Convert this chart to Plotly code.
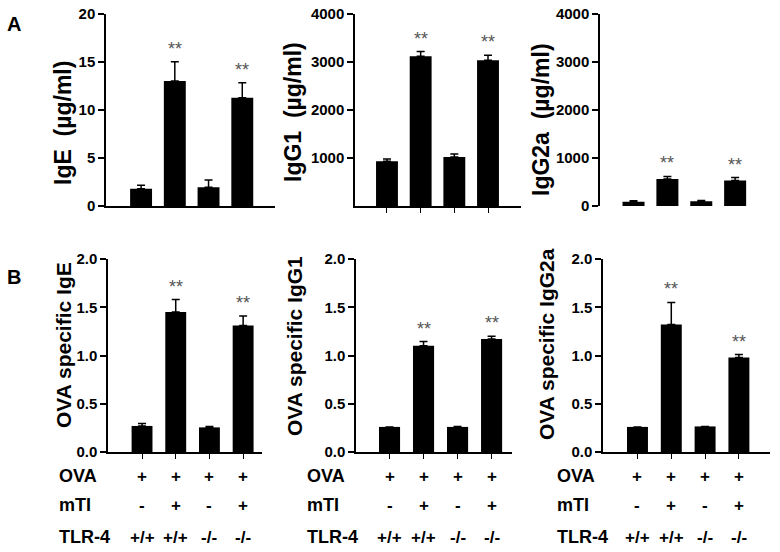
import plotly.graph_objects as go

# ---------------- data ----------------
groups = ["OVA", "OVA+mTI", "OVA TLR4-/-", "OVA+mTI TLR4-/-"]
ova_row = ["+", "+", "+", "+"]
mti_row = ["-", "+", "-", "+"]
tlr4_row = ["+/+", "+/+", "-/-", "-/-"]
significance = ["", "**", "", "**"]

ige_total = [1.8, 13.0, 1.95, 11.25]
ige_total_err = [0.35, 2.0, 0.75, 1.55]
igg1_total = [930, 3110, 1020, 3030]
igg1_total_err = [45, 100, 60, 100]
igg2a_total = [90, 560, 100, 530]
igg2a_total_err = [20, 55, 15, 60]

ova_ige = [0.27, 1.45, 0.255, 1.31]
ova_ige_err = [0.025, 0.13, 0.008, 0.10]
ova_igg1 = [0.26, 1.10, 0.26, 1.17]
ova_igg1_err = [0.0, 0.045, 0.003, 0.03]
ova_igg2a = [0.26, 1.32, 0.265, 0.98]
ova_igg2a_err = [0.0, 0.23, 0.0, 0.03]

W, H = 780, 552
FONT = "Liberation Sans, Arial, sans-serif"


def px_x(p):
    return p / W


def px_y(p):
    return 1 - p / H


panels = [
    dict(vals=ige_total, err=ige_total_err, title="IgE\u00a0\u00a0(µg/ml)",
         xd=(106, 275), xr=(-1.04, 3.97), yd=(206, 13.5), yr=(0, 20),
         tickvals=[0, 5, 10, 15, 20], ticktext=None, xline=True, xticks=False,
         title_pos=(63, 123), title_size=23),
    dict(vals=igg1_total, err=igg1_total_err, title="IgG1\u00a0\u00a0(µg/ml)",
         xd=(355, 521), xr=(-0.95, 3.98), yd=(206, 13.5), yr=(0, 4000),
         tickvals=[1000, 2000, 3000, 4000], ticktext=None, xline=True, xticks=True,
         title_pos=(293, 112), title_size=23),
    dict(vals=igg2a_total, err=igg2a_total_err, title="IgG2a\u00a0\u00a0(µg/ml)",
         xd=(600, 769), xr=(-0.99, 4.0), yd=(206, 13.5), yr=(0, 4000),
         tickvals=[0, 1000, 2000, 3000, 4000], ticktext=None, xline=False, xticks=False,
         title_pos=(541, 120), title_size=23),
    dict(vals=ova_ige, err=ova_ige_err, title="OVA specific IgE",
         xd=(108, 262), xr=(-1.01, 3.56), yd=(452, 259), yr=(0, 2),
         tickvals=[0, 0.5, 1.0, 1.5, 2.0], ticktext=["0.0", "0.5", "1.0", "1.5", "2.0"],
         xline=True, xticks=True, title_pos=(63, 345), title_size=21),
    dict(vals=ova_igg1, err=ova_igg1_err, title="OVA specific IgG1",
         xd=(356, 512), xr=(-0.985, 3.6), yd=(452, 259), yr=(0, 2),
         tickvals=[0, 0.5, 1.0, 1.5, 2.0], ticktext=["0.0", "0.5", "1.0", "1.5", "2.0"],
         xline=True, xticks=True, title_pos=(294, 346), title_size=21),
    dict(vals=ova_igg2a, err=ova_igg2a_err, title="OVA specific IgG2a",
         xd=(603, 770), xr=(-1.02, 3.92), yd=(452, 259), yr=(0, 2),
         tickvals=[0, 0.5, 1.0, 1.5, 2.0], ticktext=["0.0", "0.5", "1.0", "1.5", "2.0"],
         xline=True, xticks=True, title_pos=(546, 344), title_size=21),
]

fig = go.Figure()
annotations = []

for i, p in enumerate(panels, start=1):
    xa = "x" if i == 1 else f"x{i}"
    ya = "y" if i == 1 else f"y{i}"
    fig.add_trace(go.Bar(
        x=groups, y=p["vals"], xaxis=xa, yaxis=ya,
        width=0.65 if i <= 3 else 0.62,
        marker=dict(color="black", line=dict(width=0)),
        error_y=dict(type="data", array=p["err"], arrayminus=[0] * 4,
                     symmetric=False, color="black", thickness=1.5, width=4),
        showlegend=False, hoverinfo="skip",
    ))
    xkey = "xaxis" if i == 1 else f"xaxis{i}"
    ykey = "yaxis" if i == 1 else f"yaxis{i}"
    fig.update_layout(**{
        xkey: dict(domain=[px_x(p["xd"][0]), px_x(p["xd"][1])],
                   anchor=ya, range=list(p["xr"]), type="category",
                   showline=p["xline"], linecolor="black", linewidth=1.5,
                   ticks="outside" if p["xticks"] else "", ticklen=5, tickwidth=1,
                   tickcolor="black", showticklabels=False, showgrid=False,
                   zeroline=False, fixedrange=True, automargin=False),
        ykey: dict(domain=[px_y(p["yd"][0]), px_y(p["yd"][1])],
                   anchor=xa, range=list(p["yr"]),
                   showline=True, linecolor="black", linewidth=1.5,
                   ticks="outside", ticklen=6, tickwidth=1.5, tickcolor="black",
                   tickvals=p["tickvals"], ticktext=p["ticktext"],
                   tickfont=dict(family=FONT, size=15, color="black", weight="bold"),
                   showgrid=False, zeroline=False, fixedrange=True, automargin=False),
    })
    # y-axis title
    annotations.append(dict(
        text=f"<b>{p['title']}</b>", xref="paper", yref="paper",
        x=px_x(p["title_pos"][0]), y=px_y(p["title_pos"][1]),
        textangle=-90, showarrow=False, xanchor="center", yanchor="middle",
        font=dict(family=FONT, size=p["title_size"], color="black"),
    ))
    # significance stars
    for g, v, e, s in zip(groups, p["vals"], p["err"], significance):
        if s:
            annotations.append(dict(
                text=s, x=g, y=v + e, xref=xa, yref=ya, showarrow=False,
                xanchor="center", yanchor="bottom", yshift=1,
                font=dict(family=FONT, size=18, color="#555555"),
            ))

# table under the bottom panels
row_names = ["OVA", "mTI", "TLR-4"]
row_vals = [ova_row, mti_row, tlr4_row]
row_y = [476, 505, 537]
label_x = [57, 305, 555]
for k, i in enumerate([4, 5, 6]):
    xa = f"x{i}"
    for name, vals, ry in zip(row_names, row_vals, row_y):
        annotations.append(dict(
            text=f"<b>{name}</b>", xref="paper", yref="paper",
            x=px_x(label_x[k]), y=px_y(ry), xanchor="left", yanchor="middle",
            showarrow=False, font=dict(family=FONT, size=18, color="black"),
        ))
        for g, t in zip(groups, vals):
            annotations.append(dict(
                text=f"<b>{t}</b>", xref=xa, yref="paper", x=g, y=px_y(ry),
                xanchor="center", yanchor="middle", showarrow=False,
                font=dict(family=FONT, size=17, color="black"),
            ))

# panel letters
annotations.append(dict(text="<b>A</b>", xref="paper", yref="paper", x=px_x(14), y=px_y(24),
                        xanchor="center", yanchor="middle", showarrow=False,
                        font=dict(family=FONT, size=20, color="black")))
annotations.append(dict(text="<b>B</b>", xref="paper", yref="paper", x=px_x(14), y=px_y(277),
                        xanchor="center", yanchor="middle", showarrow=False,
                        font=dict(family=FONT, size=20, color="black")))

fig.update_layout(
    width=W, height=H, margin=dict(l=0, r=0, t=0, b=0, autoexpand=False),
    paper_bgcolor="white", plot_bgcolor="white",
    annotations=annotations, showlegend=False,
    font=dict(family=FONT, color="black"),
)

fig.write_html("out.html", include_plotlyjs=True, config={"displayModeBar": False},
               post_script="document.body.style.margin='0';document.body.style.padding='0';")
